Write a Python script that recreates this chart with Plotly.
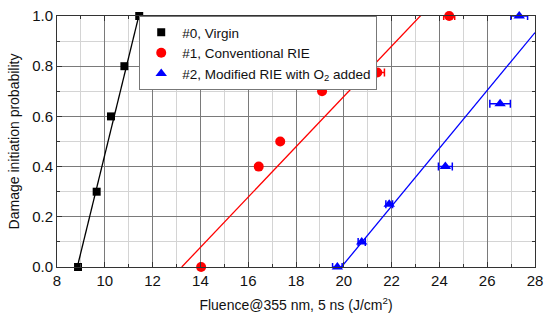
import plotly.graph_objects as go

# ---- data ----
virgin_x = [8.88, 9.66, 10.26, 10.82, 11.44]
virgin_y = [0.0, 0.3, 0.6, 0.8, 1.0]

conv_x = [14.03, 16.44, 17.34, 19.09, 21.40, 24.41]
conv_y = [0.0, 0.4, 0.5, 0.7, 0.775, 1.0]
conv_err = [0.0, 0.0, 0.0, 0.0, 0.3, 0.23]

mod_x = [19.73, 20.75, 21.90, 24.25, 26.54, 27.34]
mod_y = [0.0, 0.1, 0.25, 0.4, 0.65, 1.0]
mod_err = [0.2, 0.15, 0.14, 0.29, 0.43, 0.35]

# linear fit lines (endpoints)
virgin_fit_x = [8.85, 11.55]
virgin_fit_y = [0.0, 1.05]
conv_fit_x = [13.22, 23.3]
conv_fit_y = [0.0, 1.01]
mod_fit_x = [19.90, 28.0]
mod_fit_y = [0.0, 0.934]

names = ["#0, Virgin", "#1, Conventional RIE", "#2, Modified RIE with O<sub>2</sub> added"]
x_ticks = [8, 10, 12, 14, 16, 18, 20, 22, 24, 26, 28]
y_ticks = [0.0, 0.2, 0.4, 0.6, 0.8, 1.0]

FONT = "Liberation Sans, Arial, sans-serif"

fig = go.Figure()

# fit lines
for fx, fy, col in [(virgin_fit_x, virgin_fit_y, "black"),
                     (conv_fit_x, conv_fit_y, "red"),
                     (mod_fit_x, mod_fit_y, "blue")]:
    fig.add_trace(go.Scatter(x=fx, y=fy, mode="lines", line=dict(color=col, width=1.3),
                             showlegend=False, hoverinfo="skip"))

fig.add_trace(go.Scatter(x=virgin_x, y=virgin_y, mode="markers", name=names[0],
                         marker=dict(symbol="square", size=8, color="black"),
                         cliponaxis=False))
fig.add_trace(go.Scatter(x=conv_x, y=conv_y, mode="markers", name=names[1],
                         marker=dict(symbol="circle", size=10, color="red"),
                         error_x=dict(type="data", array=conv_err, color="red", thickness=1.5, width=4),
                         cliponaxis=False))
fig.add_trace(go.Scatter(x=mod_x, y=mod_y, mode="markers", name=names[2],
                         marker=dict(symbol="triangle-up", size=10, color="blue"),
                         error_x=dict(type="data", array=mod_err, color="blue", thickness=1.5, width=4),
                         cliponaxis=False))

axis_common = dict(
    showline=True, linecolor="#333", linewidth=1, mirror="allticks",
    ticks="inside", ticklen=5, tickcolor="#333",
    showgrid=True, gridcolor="#7a7a7a", gridwidth=1,
    zeroline=False, automargin=False,
    tickfont=dict(family=FONT, size=15, color="#111"),
)

fig.update_xaxes(
    **axis_common,
    range=[8, 28], tickvals=x_ticks, ticktext=[str(v) for v in x_ticks],
    minor=dict(dtick=1, showgrid=True, gridcolor="#d4d4d4", ticks="inside", ticklen=3, tickcolor="#333"),
    title=dict(text="Fluence@355 nm, 5 ns (J/cm<sup>2</sup>)", font=dict(family=FONT, size=14, color="#111"),
               standoff=12),
)
fig.update_yaxes(
    **axis_common,
    range=[0, 1], tickvals=y_ticks, ticktext=[f"{v:.1f}" for v in y_ticks],
    minor=dict(dtick=0.1, showgrid=True, gridcolor="#d4d4d4", ticks="inside", ticklen=3, tickcolor="#333"),
    title=dict(text="Damage initiation probability", font=dict(family=FONT, size=14, color="#111"),
               standoff=9),
)

fig.update_layout(
    width=550, height=320,
    margin=dict(l=57, r=15, t=16, b=53),
    paper_bgcolor="white", plot_bgcolor="white",
    font=dict(family=FONT, size=13, color="#111"),
    showlegend=True,
    legend=dict(x=0.172, y=1.0, xanchor="left", yanchor="top",
                bgcolor="white", bordercolor="#777", borderwidth=1,
                font=dict(family=FONT, size=13.5, color="#111"),
                itemwidth=32, tracegroupgap=0),
)

fig.write_html("out.html", config={"displayModeBar": False},
               post_script="document.body.style.margin='0px';")
